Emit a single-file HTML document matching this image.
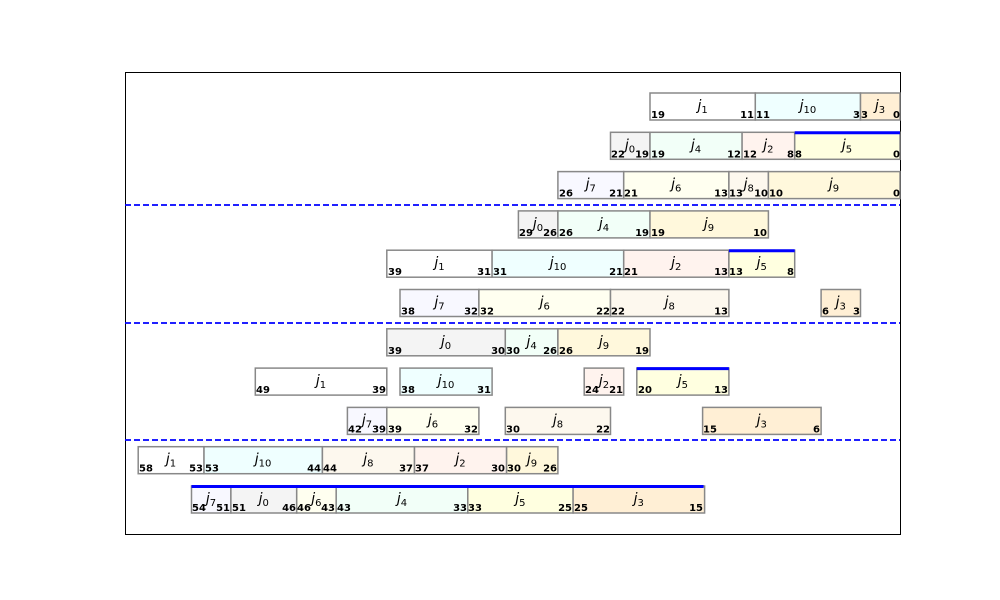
<!DOCTYPE html>
<html><head><meta charset="utf-8"><style>
body{margin:0;background:#fff;width:1000px;height:600px;overflow:hidden}
svg{display:block}
.b{stroke:#888;stroke-width:1.5}
.n{font:bold 10px "DejaVu Sans","Liberation Sans",sans-serif;fill:#000}
.e{text-anchor:end}
.j{font:italic 14px "DejaVu Sans","Liberation Sans",sans-serif;text-anchor:middle;fill:#000}
.j tspan{font-style:normal;font-size:10px}
.bl{stroke:#0000ff;stroke-width:3}
.d{stroke:#0000ff;stroke-width:1.8;stroke-dasharray:6,3}
</style></head><body>
<svg width="1000" height="600" xmlns="http://www.w3.org/2000/svg">
<rect x="125.5" y="72.5" width="775" height="462" fill="none" stroke="#000" stroke-width="1"/>
<line class="d" x1="125" y1="205" x2="900" y2="205"/>
<line class="d" x1="125" y1="323" x2="900" y2="323"/>
<line class="d" x1="125" y1="440" x2="900" y2="440"/>

<g transform="translate(0,93)">
<rect class="b" x="650" y="0" width="105.3" height="27" fill="#ffffff"/><text class="j" x="702.6" y="17">j<tspan dy="3">1</tspan></text><text class="n" x="651" y="25">19</text><text class="n e" x="754" y="25">11</text>
<rect class="b" x="755.3" y="0" width="105.2" height="27" fill="#efffff"/><text class="j" x="807.9" y="17">j<tspan dy="3">10</tspan></text><text class="n" x="756" y="25">11</text><text class="n e" x="860" y="25">3</text>
<rect class="b" x="860.5" y="0" width="39.5" height="27" fill="#ffefd5"/><text class="j" x="880" y="17">j<tspan dy="3">3</tspan></text><text class="n" x="861" y="25">3</text><text class="n e" x="900" y="25">0</text>
</g>
<g transform="translate(0,132.3)">
<rect class="b" x="610.5" y="0" width="39.5" height="27" fill="#f4f4f4"/><text class="j" x="630" y="17">j<tspan dy="3">0</tspan></text><text class="n" x="611" y="25">22</text><text class="n e" x="649" y="25">19</text>
<rect class="b" x="650" y="0" width="92.1" height="27" fill="#f2fff8"/><text class="j" x="696" y="17">j<tspan dy="3">4</tspan></text><text class="n" x="651" y="25">19</text><text class="n e" x="741" y="25">12</text>
<rect class="b" x="742.1" y="0" width="52.6" height="27" fill="#fff3ee"/><text class="j" x="768.4" y="17">j<tspan dy="3">2</tspan></text><text class="n" x="743" y="25">12</text><text class="n e" x="794" y="25">8</text>
<rect class="b" x="794.7" y="0" width="105.3" height="27" fill="#ffffe0"/><text class="j" x="847" y="17">j<tspan dy="3">5</tspan></text><text class="n" x="795" y="25">8</text><text class="n e" x="900" y="25">0</text>
<line class="bl" x1="794.7" y1="0.5" x2="900" y2="0.5"/>
</g>
<g transform="translate(0,171.6)">
<rect class="b" x="557.9" y="0" width="65.8" height="27" fill="#f8f8ff"/><text class="j" x="590.8" y="17">j<tspan dy="3">7</tspan></text><text class="n" x="559" y="25">26</text><text class="n e" x="623" y="25">21</text>
<rect class="b" x="623.7" y="0" width="105.2" height="27" fill="#fffff0"/><text class="j" x="676.3" y="17">j<tspan dy="3">6</tspan></text><text class="n" x="624" y="25">21</text><text class="n e" x="728" y="25">13</text>
<rect class="b" x="728.9" y="0" width="39.5" height="27" fill="#fdf8ee"/><text class="j" x="748.7" y="17">j<tspan dy="3">8</tspan></text><text class="n" x="729" y="25">13</text><text class="n e" x="768" y="25">10</text>
<rect class="b" x="768.4" y="0" width="131.6" height="27" fill="#fff8dc"/><text class="j" x="834" y="17">j<tspan dy="3">9</tspan></text><text class="n" x="769" y="25">10</text><text class="n e" x="900" y="25">0</text>
</g>
<g transform="translate(0,210.9)">
<rect class="b" x="518.4" y="0" width="39.5" height="27" fill="#f4f4f4"/><text class="j" x="538" y="17">j<tspan dy="3">0</tspan></text><text class="n" x="519" y="25">29</text><text class="n e" x="557" y="25">26</text>
<rect class="b" x="557.9" y="0" width="92.1" height="27" fill="#f2fff8"/><text class="j" x="604" y="17">j<tspan dy="3">4</tspan></text><text class="n" x="559" y="25">26</text><text class="n e" x="649" y="25">19</text>
<rect class="b" x="650" y="0" width="118.4" height="27" fill="#fff8dc"/><text class="j" x="709" y="17">j<tspan dy="3">9</tspan></text><text class="n" x="651" y="25">19</text><text class="n e" x="767" y="25">10</text>
</g>
<g transform="translate(0,250.2)">
<rect class="b" x="386.8" y="0" width="105.3" height="27" fill="#ffffff"/><text class="j" x="439.5" y="17">j<tspan dy="3">1</tspan></text><text class="n" x="388" y="25">39</text><text class="n e" x="491" y="25">31</text>
<rect class="b" x="492.1" y="0" width="131.6" height="27" fill="#efffff"/><text class="j" x="558" y="17">j<tspan dy="3">10</tspan></text><text class="n" x="493" y="25">31</text><text class="n e" x="623" y="25">21</text>
<rect class="b" x="623.7" y="0" width="105.2" height="27" fill="#fff3ee"/><text class="j" x="676.3" y="17">j<tspan dy="3">2</tspan></text><text class="n" x="624" y="25">21</text><text class="n e" x="728" y="25">13</text>
<rect class="b" x="728.9" y="0" width="65.8" height="27" fill="#ffffe0"/><text class="j" x="761.8" y="17">j<tspan dy="3">5</tspan></text><text class="n" x="729" y="25">13</text><text class="n e" x="794" y="25">8</text>
<line class="bl" x1="728.9" y1="0.5" x2="794.7" y2="0.5"/>
</g>
<g transform="translate(0,289.5)">
<rect class="b" x="400" y="0" width="78.9" height="27" fill="#f8f8ff"/><text class="j" x="439.5" y="17">j<tspan dy="3">7</tspan></text><text class="n" x="401" y="25">38</text><text class="n e" x="478" y="25">32</text>
<rect class="b" x="478.9" y="0" width="131.6" height="27" fill="#fffff0"/><text class="j" x="544.7" y="17">j<tspan dy="3">6</tspan></text><text class="n" x="480" y="25">32</text><text class="n e" x="610" y="25">22</text>
<rect class="b" x="610.5" y="0" width="118.4" height="27" fill="#fdf8ee"/><text class="j" x="669.7" y="17">j<tspan dy="3">8</tspan></text><text class="n" x="611" y="25">22</text><text class="n e" x="728" y="25">13</text>
<rect class="b" x="821.1" y="0" width="39.4" height="27" fill="#ffefd5"/><text class="j" x="840.8" y="17">j<tspan dy="3">3</tspan></text><text class="n" x="822" y="25">6</text><text class="n e" x="860" y="25">3</text>
</g>
<g transform="translate(0,328.8)">
<rect class="b" x="386.8" y="0" width="118.5" height="27" fill="#f4f4f4"/><text class="j" x="446" y="17">j<tspan dy="3">0</tspan></text><text class="n" x="388" y="25">39</text><text class="n e" x="505" y="25">30</text>
<rect class="b" x="505.3" y="0" width="52.6" height="27" fill="#f2fff8"/><text class="j" x="531.6" y="17">j<tspan dy="3">4</tspan></text><text class="n" x="506" y="25">30</text><text class="n e" x="557" y="25">26</text>
<rect class="b" x="557.9" y="0" width="92.1" height="27" fill="#fff8dc"/><text class="j" x="604" y="17">j<tspan dy="3">9</tspan></text><text class="n" x="559" y="25">26</text><text class="n e" x="649" y="25">19</text>
</g>
<g transform="translate(0,368.1)">
<rect class="b" x="255.3" y="0" width="131.5" height="27" fill="#ffffff"/><text class="j" x="321" y="17">j<tspan dy="3">1</tspan></text><text class="n" x="256" y="25">49</text><text class="n e" x="386" y="25">39</text>
<rect class="b" x="400" y="0" width="92.1" height="27" fill="#efffff"/><text class="j" x="446" y="17">j<tspan dy="3">10</tspan></text><text class="n" x="401" y="25">38</text><text class="n e" x="491" y="25">31</text>
<rect class="b" x="584.2" y="0" width="39.5" height="27" fill="#fff3ee"/><text class="j" x="604" y="17">j<tspan dy="3">2</tspan></text><text class="n" x="585" y="25">24</text><text class="n e" x="623" y="25">21</text>
<rect class="b" x="636.8" y="0" width="92.1" height="27" fill="#ffffe0"/><text class="j" x="682.9" y="17">j<tspan dy="3">5</tspan></text><text class="n" x="638" y="25">20</text><text class="n e" x="728" y="25">13</text>
<line class="bl" x1="636.8" y1="0.5" x2="728.9" y2="0.5"/>
</g>
<g transform="translate(0,407.4)">
<rect class="b" x="347.4" y="0" width="39.4" height="27" fill="#f8f8ff"/><text class="j" x="367" y="17">j<tspan dy="3">7</tspan></text><text class="n" x="348" y="25">42</text><text class="n e" x="386" y="25">39</text>
<rect class="b" x="386.8" y="0" width="92.1" height="27" fill="#fffff0"/><text class="j" x="433" y="17">j<tspan dy="3">6</tspan></text><text class="n" x="388" y="25">39</text><text class="n e" x="478" y="25">32</text>
<rect class="b" x="505.3" y="0" width="105.2" height="27" fill="#fdf8ee"/><text class="j" x="558" y="17">j<tspan dy="3">8</tspan></text><text class="n" x="506" y="25">30</text><text class="n e" x="610" y="25">22</text>
<rect class="b" x="702.6" y="0" width="118.5" height="27" fill="#ffefd5"/><text class="j" x="761.8" y="17">j<tspan dy="3">3</tspan></text><text class="n" x="703" y="25">15</text><text class="n e" x="820" y="25">6</text>
</g>
<g transform="translate(0,446.7)">
<rect class="b" x="138.2" y="0" width="65.8" height="27" fill="#ffffff"/><text class="j" x="171" y="17">j<tspan dy="3">1</tspan></text><text class="n" x="139" y="25">58</text><text class="n e" x="203" y="25">53</text>
<rect class="b" x="204" y="0" width="118.4" height="27" fill="#efffff"/><text class="j" x="263" y="17">j<tspan dy="3">10</tspan></text><text class="n" x="205" y="25">53</text><text class="n e" x="321" y="25">44</text>
<rect class="b" x="322.4" y="0" width="92.1" height="27" fill="#fdf8ee"/><text class="j" x="368.4" y="17">j<tspan dy="3">8</tspan></text><text class="n" x="323" y="25">44</text><text class="n e" x="413" y="25">37</text>
<rect class="b" x="414.5" y="0" width="92.1" height="27" fill="#fff3ee"/><text class="j" x="460.5" y="17">j<tspan dy="3">2</tspan></text><text class="n" x="415" y="25">37</text><text class="n e" x="505" y="25">30</text>
<rect class="b" x="506.6" y="0" width="51.3" height="27" fill="#fff8dc"/><text class="j" x="532" y="17">j<tspan dy="3">9</tspan></text><text class="n" x="507" y="25">30</text><text class="n e" x="557" y="25">26</text>
</g>
<g transform="translate(0,486)">
<rect class="b" x="191.5" y="0" width="39.4" height="27" fill="#f8f8ff"/><text class="j" x="211" y="17">j<tspan dy="3">7</tspan></text><text class="n" x="192" y="25">54</text><text class="n e" x="230" y="25">51</text>
<rect class="b" x="230.9" y="0" width="65.8" height="27" fill="#f4f4f4"/><text class="j" x="263.8" y="17">j<tspan dy="3">0</tspan></text><text class="n" x="232" y="25">51</text><text class="n e" x="296" y="25">46</text>
<rect class="b" x="296.7" y="0" width="39.5" height="27" fill="#fffff0"/><text class="j" x="316.4" y="17">j<tspan dy="3">6</tspan></text><text class="n" x="297" y="25">46</text><text class="n e" x="335" y="25">43</text>
<rect class="b" x="336.2" y="0" width="131.6" height="27" fill="#f2fff8"/><text class="j" x="402" y="17">j<tspan dy="3">4</tspan></text><text class="n" x="337" y="25">43</text><text class="n e" x="467" y="25">33</text>
<rect class="b" x="467.8" y="0" width="105.3" height="27" fill="#ffffe0"/><text class="j" x="520.4" y="17">j<tspan dy="3">5</tspan></text><text class="n" x="468" y="25">33</text><text class="n e" x="572" y="25">25</text>
<rect class="b" x="573.1" y="0" width="131.5" height="27" fill="#ffefd5"/><text class="j" x="638.8" y="17">j<tspan dy="3">3</tspan></text><text class="n" x="574" y="25">25</text><text class="n e" x="703" y="25">15</text>
<line class="bl" x1="191.5" y1="0.5" x2="703.6" y2="0.5"/>
</g>
</svg>
</body></html>
